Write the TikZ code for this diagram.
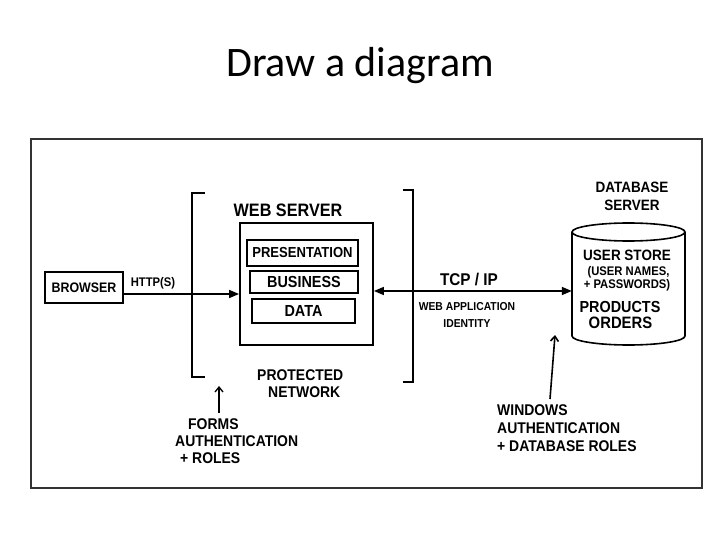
\documentclass[tikz,border=0pt]{standalone}
\usepackage{fontspec}
\setmainfont{Liberation Sans}
\newfontfamily\handfont{Liberation Sans}[FakeStretch=0.9]
\newfontfamily\titlefont{Carlito}
\usetikzlibrary{arrows.meta}
\begin{document}
\begin{tikzpicture}[x=1pt,y=-1pt,
  hand/.style={font=\handfont\bfseries\fontsize{#1}{17}\selectfont, inner sep=0pt, text=black},
  box/.style={draw, line width=1.6pt, inner sep=0pt},
  bracketline/.style={line width=1.8pt},
  arr/.style={line width=1.6pt, -{Triangle[length=10pt,width=8pt]}},
  darr/.style={line width=1.6pt, {Triangle[length=10pt,width=8pt]}-{Triangle[length=10pt,width=8pt]}},
  uparr/.style={line width=1.3pt, -{Straight Barb[length=5pt,width=8pt]}}]
\useasboundingbox (0,0) rectangle (720,540);
\fill[white] (0,0) rectangle (720,540);

% title
\node[font=\titlefont\fontsize{42}{42}\selectfont, anchor=base, inner sep=0pt] (title) at (360,77) {Draw a diagram};

% frame
\draw[line width=2.2pt, black!80] (31,139) rectangle (702,488);

% browser
\node[box, hand=13.8, minimum width=78pt, minimum height=31pt] (browser) at (84,287.5) {BROWSER};
\node[hand=12.5, anchor=base] (http) at (153,286) {HTTP(S)};

% protected network brackets
\draw[bracketline] (205,193) -- (192,193) -- (192,377) -- (205,377);
\draw[bracketline] (403,190) -- (413,190) -- (413,382) -- (403,382);
\node[hand=15.5, align=left, anchor=north west] (prot) at (257,369) {PROTECTED\\\hspace*{11pt}NETWORK};

% web server
\node[hand=18, anchor=base] (wsl) at (288,216) {WEB SERVER};
\node[box, line width=1.8pt, minimum width=133pt, minimum height=122pt] (ws) at (306.5,284) {};
\node[box, hand=14.5, minimum width=111pt, minimum height=26pt] (pres) at (302.5,253) {PRESENTATION};
\node[box, hand=16, minimum width=108pt, minimum height=22pt] (bus) at (304,282) {BUSINESS};
\node[box, hand=16, minimum width=103pt, minimum height=24pt] (data) at (303.5,311) {DATA};

% database
\node[hand=15, align=center, font=\handfont\bfseries\fontsize{15}{18}\selectfont] (dbl) at (632,196) {DATABASE\\SERVER};
\node[inner sep=0pt, minimum width=113pt, minimum height=122pt] (db) at (628.5,284) {};
\draw[line width=1.6pt] (572,232) -- (572,336) arc[start angle=180, end angle=0, x radius=56.5, y radius=9] -- (685,232);
\draw[line width=1.6pt] (628.5,232) ellipse [x radius=56.5, y radius=9];
\node[hand=15, anchor=base] (us) at (627,260) {USER STORE};
\node[hand=12.5, anchor=base] (un) at (628.5,275) {(USER NAMES,};
\node[hand=12.5, anchor=base] (pw) at (627,288) {+ PASSWORDS)};
\node[hand=16, anchor=base] (prod) at (620,312) {PRODUCTS};
\node[hand=16.5, anchor=base] (ord) at (620.5,328) {ORDERS};

% connectors
\coordinate (hy) at (0,294);
\coordinate (ty) at (0,291);
\draw[arr] (browser.east |- hy) -- (ws.west |- hy);
\draw[darr] (ws.east |- ty) -- (db.west |- ty);
\node[hand=17, anchor=base] (tcp) at (469,285) {TCP / IP};
\node[hand=11.5, align=center] (wai) at (467,315) {WEB APPLICATION\\IDENTITY};

% bottom labels
\node[hand=15.5, align=left, anchor=north west] (forms) at (175,418) {\hspace*{13pt}FORMS\\AUTHENTICATION\\\hspace*{5pt}+ ROLES};
\coordinate (lbt) at (219,386);
\draw[uparr] ([yshift=5pt]lbt |- forms.north) -- (lbt);

\node[hand=15.5, align=left, anchor=north west, font=\handfont\bfseries\fontsize{15.5}{18}\selectfont] (win) at (497,404) {WINDOWS\\AUTHENTICATION\\+ DATABASE ROLES};
\coordinate (wa) at (550,399);
\coordinate (wt) at (555,335);
\draw[uparr, line width=1.6pt] (wa) -- (wt);
\end{tikzpicture}
\end{document}
